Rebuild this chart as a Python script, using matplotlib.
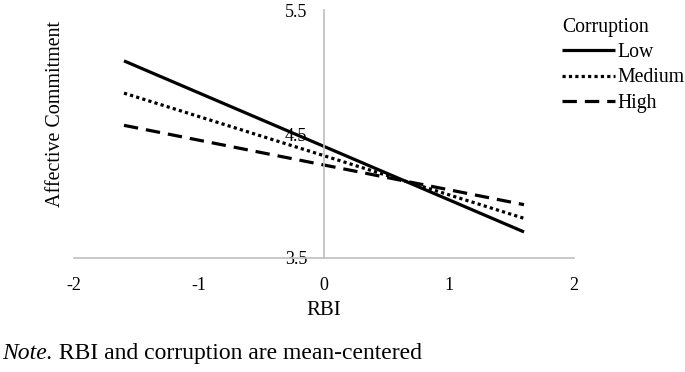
import matplotlib
matplotlib.use("Agg")
from matplotlib import pyplot as plt

# Simple slopes: RBI at -1.6 and +1.6 (mean-centered)
rbi = [-1.6, 1.6]
low = [5.09, 3.71]
medium = [4.83, 3.82]
high = [4.57, 3.93]

xticks = [-2, -1, 0, 1, 2]
yticks = [3.5, 4.5, 5.5]

plt.rcParams.update({
    "font.family": ["Liberation Serif", "DejaVu Serif"],
    "font.size": 13,
})

fig = plt.figure(figsize=(6.85, 3.72), dpi=100)
ax = fig.add_axes([0.108, 0.3065, 0.73, 0.6665])

lines = [
    {"y": low, "style": "-", "label": "Low"},
    {"y": medium, "style": (0, (1, 1)), "label": "Medium"},
    {"y": high, "style": (0, (4.5, 2.5)), "label": "High"},
]
for line in lines:
    ax.plot(rbi, line["y"], color="black", linestyle=line["style"], linewidth=2.3,
            label=line["label"], solid_capstyle="butt", dash_capstyle="butt")

ax.set_xlim(-2, 2)
ax.set_ylim(3.5, 5.5)
ax.set_xticks(xticks)
ax.set_xticklabels([str(t) for t in xticks])
ax.set_yticks(yticks)
ax.set_yticklabels([str(t) for t in yticks])

for s in ["top", "right"]:
    ax.spines[s].set_visible(False)
ax.spines["left"].set_position(("data", 0))
ax.spines["bottom"].set_position(("data", 3.5))
for s in ["left", "bottom"]:
    ax.spines[s].set_color("#BFBFBF")
    ax.spines[s].set_linewidth(1.2)
ax.tick_params(axis="both", length=0, labelsize=13)
ax.tick_params(axis="x", pad=14)
ax.tick_params(axis="y", pad=12)

ax.set_xlabel("RBI", fontsize=15, labelpad=5)
ax.set_ylabel("Affective Commitment", fontsize=14.4)
ax.yaxis.set_label_coords(-0.018, 0.579)

leg = ax.legend(title="Corruption", loc="upper left", bbox_to_anchor=(0.976, 0.967),
                frameon=False, fontsize=14.2, title_fontsize=14.2, handlelength=2.7,
                handletextpad=0.12, labelspacing=0.31, borderaxespad=0, borderpad=0)
leg._legend_box.align = "left"

note = fig.text(0.003, 0.035, "Note.", fontsize=17, style="italic")
ax.annotate(" RBI and corruption are mean-centered", xy=(1, 0), xycoords=note,
            fontsize=17, va="bottom", ha="left", annotation_clip=False)

fig.savefig("out.png", dpi=100)
